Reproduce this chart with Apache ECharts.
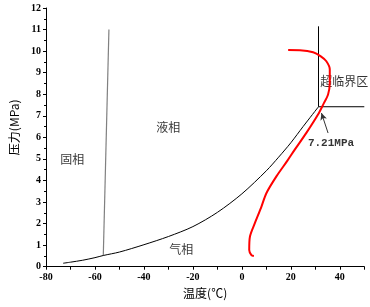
<!DOCTYPE html>
<html>
<head>
<meta charset="utf-8">
<script src="https://cdn.jsdelivr.net/npm/echarts@6/dist/echarts.min.js"></script>
<style>
  html, body { margin: 0; padding: 0; background: #fff; }
  #chart { width: 370px; height: 307px; }
</style>
</head>
<body>
<div id="chart"></div>
<script>
// melting line (solid / liquid)
var meltLine = [[-56.6, 0.52], [-54.3, 11.0]];

// vapour pressure curve, up to the critical point
var vaporCurve = [
    [-73, 0.16], [-70, 0.21], [-65, 0.30], [-60, 0.42], [-56.6, 0.52],
    [-50, 0.68], [-40, 1.02], [-30, 1.40], [-20, 1.86], [-10, 2.52],
    [0, 3.38], [10, 4.45], [15, 5.08], [20, 5.75], [25, 6.50], [31.3, 7.42]
];

// supercritical region borders
var critVert = [[31.3, 7.42], [31.3, 11.15]];
var critHorz = [[31.3, 7.42], [50, 7.42]];

// measured red curve
var redCurve = [
    [18.9, 10.05], [23.7, 10.04], [29.1, 9.95], [32.1, 9.77], [34.5, 9.53],
    [35.9, 9.15], [35.9, 8.53], [35.2, 7.99], [33.2, 7.52], [31.1, 7.06],
    [26.4, 6.22], [21.6, 5.43], [18.6, 4.92], [14.1, 4.19],
    [10.0, 3.41], [8.0, 2.79], [5.3, 2.02], [3.3, 1.40], [3.0, 0.78],
    [3.9, 0.54], [4.9, 0.50]
];

// annotation arrow (tail -> head)
var arrowLine = [[35.2, 6.2], [32.5, 7.13]];

var regionLabels = [
    {name: '固相', value: [-69.3, 4.96]},
    {name: '液相', value: [-30.1, 6.45]},
    {name: '气相', value: [-24.8, 0.82]},
    {name: '超临界区', value: [41.8, 8.6]}
];
var pressLabel = [{name: '7.21MPa', value: [36.4, 5.74]}];

var chart = echarts.init(document.getElementById('chart'), null, {renderer: 'canvas'});

var tickFont = {
    color: '#000',
    fontFamily: 'Liberation Serif',
    fontWeight: 'bold',
    fontSize: 10
};

var option = {
    animation: false,
    grid: {left: 42.7, right: 5.7, top: 8, bottom: 40.3},
    xAxis: {
        type: 'value',
        min: -80,
        max: 50,
        interval: 10,
        name: '温度(℃)',
        nameLocation: 'middle',
        nameGap: 20,
        nameTextStyle: {color: '#000', fontFamily: 'Noto Sans CJK SC', fontSize: 12},
        axisLine: {onZero: false, lineStyle: {color: '#000', width: 1}},
        axisTick: {show: true, inside: false, length: 3, lineStyle: {color: '#000'}},
        splitLine: {show: false},
        axisLabel: Object.assign({
            margin: 6,
            formatter: function(v) { return (v % 20 === 0 && v < 50) ? v : ''; }
        }, tickFont)
    },
    yAxis: {
        type: 'value',
        min: 0,
        max: 12,
        interval: 1,
        name: '压力(MPa)',
        nameLocation: 'middle',
        nameGap: 26,
        nameTextStyle: {color: '#000', fontFamily: 'Noto Sans CJK SC', fontSize: 12, padding: [0, 0, 0, 20]},
        axisLine: {show: true, onZero: false, lineStyle: {color: '#000', width: 1}},
        axisTick: {show: true, inside: false, length: 3, lineStyle: {color: '#000'}},
        minorTick: {show: true, splitNumber: 2, length: 2, lineStyle: {color: '#000'}},
        splitLine: {show: false},
        axisLabel: Object.assign({margin: 5}, tickFont)
    },
    series: [
        {
            type: 'line', data: meltLine, symbol: 'none',
            lineStyle: {color: '#808080', width: 1.2}
        },
        {
            type: 'line', data: vaporCurve, symbol: 'none', smooth: 0.3,
            lineStyle: {color: '#000', width: 1}
        },
        {
            type: 'line', data: critVert, symbol: 'none',
            lineStyle: {color: '#000', width: 1}
        },
        {
            type: 'line', data: critHorz, symbol: 'none',
            lineStyle: {color: '#000', width: 1}
        },
        {
            type: 'line', data: redCurve, symbol: 'none', smooth: 0.3,
            lineStyle: {color: '#ff0000', width: 2}
        },
        {
            type: 'line', data: [], symbol: 'none',
            markLine: {
                silent: true,
                symbol: ['none', 'arrow'],
                symbolSize: [5, 7],
                label: {show: false},
                lineStyle: {color: '#333', width: 1, type: 'solid'},
                data: [[{coord: arrowLine[0]}, {coord: arrowLine[1]}]]
            }
        },
        {
            type: 'scatter', data: regionLabels, symbolSize: 0,
            label: {
                show: true, position: 'inside', formatter: '{b}',
                color: '#000', fontFamily: 'Noto Sans CJK SC', fontSize: 12
            }
        },
        {
            type: 'scatter', data: pressLabel, symbolSize: 0,
            label: {
                show: true, position: 'inside', formatter: '{b}',
                color: '#000', fontFamily: 'Liberation Mono', fontWeight: 'bold', fontSize: 11
            }
        }
    ]
};

chart.setOption(option);
</script>
</body>
</html>
